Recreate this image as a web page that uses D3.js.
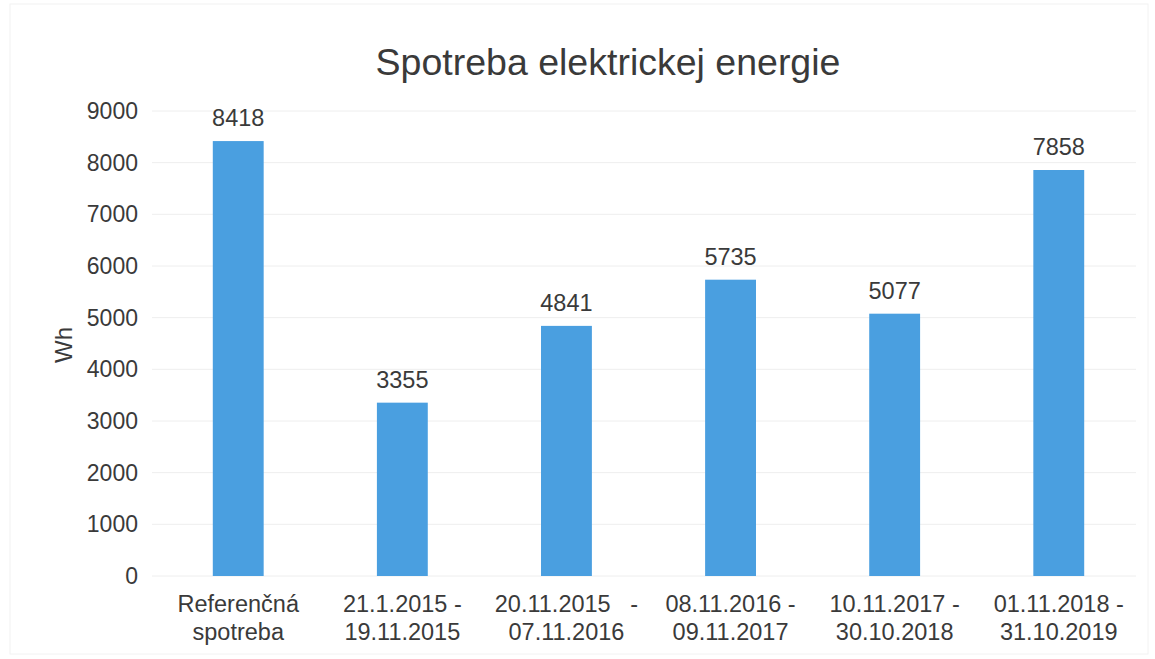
<!DOCTYPE html>
<html><head><meta charset="utf-8">
<script src="https://cdn.jsdelivr.net/npm/d3@7"></script>
<style>body{margin:0;background:#fff}text{font-family:"Liberation Sans",Arial,sans-serif}</style>
</head><body><svg id="c" width="1155" height="659"></svg>
<script>
const categories = [["Referenčná","spotreba"],["21.1.2015 -","19.11.2015"],["20.11.2015   -","07.11.2016"],["08.11.2016 -","09.11.2017"],["10.11.2017 -","30.10.2018"],["01.11.2018 -","31.10.2019"]];
const values = [8418, 3355, 4841, 5735, 5077, 7858];
const yTicks = [0,1000,2000,3000,4000,5000,6000,7000,8000,9000];
const title = "Spotreba elektrickej energie";
const yLabel = "Wh";

(function(){
const svg = d3.select("#c");
const mLeft = 157, mRight = 1140, mTop = 111, mBottom = 576;
const x = d3.scaleBand().domain(d3.range(values.length)).range([mLeft, mRight]).paddingInner(0.69).paddingOuter(0.34);
const y = d3.scaleLinear().domain([0, 9000]).range([mBottom, mTop]);
const txt = "#3a3a3a";

svg.append("rect").attr("x",10).attr("y",4).attr("width",1138).attr("height",650).attr("fill","none").attr("stroke","#f2f2f2");

svg.append("g").selectAll("line").data(yTicks).join("line")
  .attr("x1", mLeft-5).attr("x2", 1136).attr("y1", d=>y(d)).attr("y2", d=>y(d))
  .attr("stroke", "#eeeeee").attr("stroke-width", 1);

const yAxis = svg.append("g").attr("transform",`translate(${mLeft},0)`)
  .call(d3.axisLeft(y).tickValues(yTicks).tickSize(0).tickPadding(19).tickFormat(d3.format("d")));
yAxis.select(".domain").remove();
yAxis.selectAll("text").attr("font-size", 23).attr("fill", txt).attr("font-family", null);

svg.append("g").selectAll("rect").data(values).join("rect")
  .attr("x", (d,i)=>x(i)).attr("width", x.bandwidth())
  .attr("y", d=>y(d)).attr("height", d=>mBottom - y(d))
  .attr("fill", "#4a9fe0");

svg.append("g").selectAll("text").data(values).join("text")
  .attr("x", (d,i)=>x(i)+x.bandwidth()/2).attr("y", d=>y(d)-15)
  .attr("text-anchor","middle").attr("font-size", 23.5).attr("fill",txt).text(d=>d);

const xl = svg.append("g").selectAll("text").data(categories).join("text")
  .attr("x", (d,i)=>x(i)+x.bandwidth()/2).attr("y", 612)
  .attr("text-anchor","middle").attr("font-size", 23.5).attr("fill",txt)
  .style("white-space","pre");
xl.each(function(d){
  const t = d3.select(this);
  d.forEach((line,j)=>t.append("tspan").attr("x", t.attr("x")).attr("dy", j===0?0:28).text(line));
});

svg.append("text").attr("x", 608).attr("y", 75).attr("text-anchor","middle")
  .attr("font-size", 37.5).attr("fill",txt).text(title);

svg.append("text").attr("transform","translate(72,345) rotate(-90)")
  .attr("text-anchor","middle").attr("font-size", 24).attr("fill",txt).text(yLabel);
})();
</script></body></html>
